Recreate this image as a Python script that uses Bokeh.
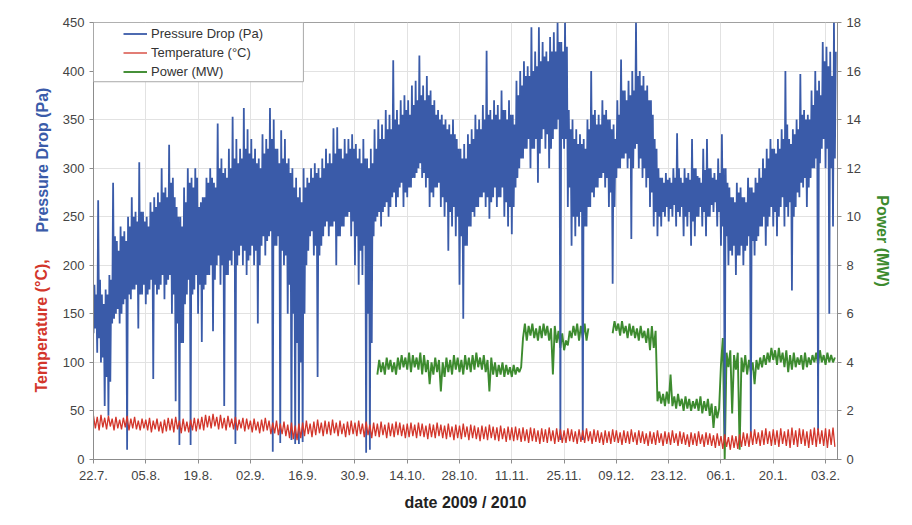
import numpy as np
from bokeh.plotting import figure
from bokeh.models import (Range1d, LinearAxis, FixedTicker, Legend, LegendItem,
                          Title, BoxAnnotation)
from bokeh.embed import file_html
from bokeh.resources import INLINE

# ---------------- data ----------------
# x axis: days since 22.7.2009
TICK_DAYS = [0, 14, 28, 42, 56, 70, 84, 98, 112, 126, 140, 154, 168, 182, 196]
TICK_LABELS = ["22.7.", "05.8.", "19.8.", "02.9.", "16.9.", "30.9.", "14.10.", "28.10.",
               "11.11.", "25.11.", "09.12.", "23.12.", "06.1.", "20.1.", "03.2."]

# Pressure drop (Pa): per day two cycles (low, high, low2, high2), days 0..198
P_LO = [130, 110, 100, 55, 45, 140, 150, 140, 160, 10,
        165, 175, 135, 170, 160, 175, 83, 170, 180, 165,
        185, 150, 60, 15, 120, 170, 15, 175, 150, 121,
        180, 190, 132, 200, 180, 55, 190, 200, 16, 210,
        200, 190, 210, 200, 140, 220, 210, 230, 8, 220,
        17, 200, 150, 20, 16, 16, 18, 200, 230, 210,
        85, 220, 240, 230, 240, 200, 230, 240, 250, 230,
        200, 180, 190, 7, 10, 230, 250, 240, 260, 250,
        270, 260, 280, 260, 270, 280, 290, 300, 290, 280,
        260, 270, 280, 260, 250, 215, 240, 230, 180, 145,
        220, 240, 250, 260, 270, 260, 248, 270, 260, 270,
        250, 240, 232, 280, 300, 310, 320, 300, 320, 285,
        330, 320, 300, 330, 340, 20, 320, 260, 220, 230,
        240, 20, 240, 260, 270, 280, 290, 280, 260, 181,
        290, 300, 310, 300, 227, 320, 300, 290, 280, 260,
        240, 230, 240, 250, 245, 250, 240, 250, 230, 240,
        220, 230, 250, 240, 230, 250, 255, 240, 220, 20,
        200, 210, 190, 210, 200, 220, 25, 210, 230, 240,
        220, 250, 240, 230, 260, 240, 250, 174, 260, 270,
        280, 260, 290, 300, 30, 320, 300, 150, 240]
P_HI = [180, 267, 170, 175, 190, 285, 225, 240, 235, 250,
        270, 255, 306, 255, 250, 265, 270, 275, 300, 280,
        324, 290, 260, 250, 280, 300, 290, 300, 260, 270,
        290, 300, 285, 346, 310, 300, 320, 353, 330, 320,
        362, 340, 330, 320, 310, 335, 330, 362, 350, 320,
        339, 330, 310, 300, 290, 280, 300, 290, 300, 305,
        300, 310, 320, 315, 341, 342, 320, 330, 330, 335,
        325, 320, 330, 310, 320, 340, 350, 345, 360, 355,
        411, 360, 370, 375, 370, 385, 390, 416, 385, 395,
        380, 370, 360, 355, 350, 345, 350, 330, 320, 325,
        335, 340, 355, 350, 365, 421, 360, 370, 365, 380,
        360, 370, 355, 390, 400, 410, 405, 445, 420, 445,
        430, 420, 435, 440, 450, 430, 450, 360, 350, 340,
        335, 330, 350, 400, 360, 355, 370, 360, 350, 345,
        370, 412, 380, 390, 400, 450, 400, 395, 385, 370,
        330, 300, 290, 295, 290, 300, 336, 290, 300, 295,
        330, 300, 290, 320, 330, 300, 295, 310, 335, 300,
        280, 270, 285, 280, 270, 290, 280, 290, 300, 310,
        320, 330, 320, 330, 340, 400, 330, 340, 350, 397,
        360, 355, 380, 400, 390, 430, 425, 420, 450]
P_LO2 = [135, 125, 105, 85, 80, 145, 155, 150, 165, 170,
         175, 180, 170, 180, 170, 185, 180, 175, 190, 180,
         190, 170, 140, 120, 160, 185, 170, 190, 180, 175,
         190, 200, 185, 210, 200, 190, 205, 215, 200, 220,
         215, 205, 220, 215, 200, 230, 225, 235, 220, 230,
         215, 210, 180, 150, 120, 100, 150, 215, 235, 220,
         210, 230, 245, 240, 245, 230, 240, 250, 255, 245,
         230, 215, 220, 150, 120, 245, 255, 255, 265, 260,
         275, 270, 285, 275, 280, 290, 295, 305, 295, 290,
         275, 280, 285, 270, 265, 255, 260, 250, 230, 220,
         240, 255, 260, 270, 275, 270, 265, 280, 270, 280,
         265, 260, 260, 290, 310, 320, 330, 320, 330, 315,
         340, 335, 320, 340, 350, 330, 330, 280, 250, 250,
         255, 240, 260, 275, 280, 290, 295, 290, 275, 260,
         300, 310, 315, 310, 300, 325, 310, 300, 290, 275,
         255, 250, 255, 260, 258, 262, 255, 260, 250, 255,
         245, 250, 260, 255, 250, 262, 265, 255, 240, 230,
         215, 220, 210, 220, 215, 230, 225, 225, 240, 250,
         240, 260, 255, 250, 270, 260, 265, 250, 275, 285,
         290, 280, 300, 310, 305, 330, 320, 300, 310]
P_HI2 = [170, 185, 160, 170, 185, 230, 215, 230, 225, 240,
         250, 245, 255, 245, 240, 255, 260, 265, 275, 270,
         285, 270, 250, 240, 265, 285, 280, 290, 265, 270,
         285, 290, 280, 300, 295, 290, 300, 310, 305, 310,
         320, 315, 310, 305, 300, 315, 320, 330, 320, 305,
         310, 305, 295, 280, 270, 265, 280, 285, 290, 295,
         290, 300, 305, 305, 315, 320, 310, 315, 320, 320,
         310, 305, 310, 300, 305, 320, 330, 330, 340, 340,
         350, 345, 355, 360, 355, 365, 370, 375, 370, 375,
         365, 355, 350, 345, 340, 335, 335, 320, 310, 310,
         325, 330, 340, 340, 350, 355, 350, 355, 350, 360,
         350, 355, 345, 375, 385, 395, 395, 400, 405, 410,
         415, 410, 420, 420, 430, 420, 425, 340, 330, 325,
         325, 320, 340, 355, 345, 345, 355, 350, 340, 330,
         355, 380, 370, 375, 380, 395, 385, 380, 370, 355,
         320, 290, 285, 288, 285, 290, 300, 285, 290, 288,
         300, 292, 285, 298, 300, 290, 288, 295, 300, 285,
         270, 265, 275, 270, 265, 280, 275, 285, 290, 300,
         310, 320, 315, 320, 330, 345, 325, 335, 340, 355,
         350, 350, 365, 380, 375, 410, 405, 395, 420]

# Temperature (°C), daily high / low, days 0..198
T_HI = [45, 44, 46, 43, 45, 42, 44, 41, 43, 45, 42, 44, 40, 42,
        41, 43, 40, 42, 39, 41, 43, 42, 44, 40, 42, 39, 41, 43,
        42, 44, 46, 45, 47, 44, 46, 43, 45, 42, 44, 41, 43, 42,
        40, 42, 39, 41, 43, 40, 38, 40, 37, 39, 36, 38, 35, 37,
        38, 40, 37, 39, 41, 38, 40, 39, 41, 38, 40, 37, 39, 40,
        38, 40, 37, 39, 36, 38, 37, 39, 36, 38, 37, 39, 38, 36,
        37, 38, 36, 38, 37, 35, 37, 36, 38, 36, 35, 37, 34, 36,
        35, 37, 34, 36, 35, 33, 35, 34, 36, 34, 33, 35, 32, 34,
        33, 34, 32, 33, 31, 33, 32, 30, 32, 31, 33, 30, 32, 31,
        30, 32, 31, 29, 31, 30, 32, 29, 31, 30, 28, 30, 29, 31,
        30, 28, 30, 29, 31, 28, 30, 29, 27, 29, 28, 30, 27, 29,
        28, 30, 27, 29, 28, 26, 28, 27, 29, 26, 28, 27, 25, 27,
        24, 26, 23, 25, 24, 26, 28, 27, 29, 31, 28, 30, 32, 29,
        31, 30, 32, 29, 31, 33, 30, 32, 31, 29, 31, 33, 32, 30, 32, 31, 33]
T_LO = [32, 30, 33, 31, 34, 30, 32, 31, 33, 30, 32, 31, 30, 32,
        30, 28, 31, 29, 27, 29, 30, 28, 31, 27, 29, 28, 30, 29,
        31, 30, 33, 32, 34, 31, 32, 30, 33, 31, 30, 32, 29, 31,
        28, 30, 27, 29, 30, 26, 27, 25, 26, 24, 22, 21, 20, 22,
        24, 26, 23, 25, 27, 24, 26, 25, 27, 24, 26, 23, 25, 26,
        24, 26, 23, 25, 22, 24, 23, 25, 22, 24, 23, 25, 24, 22,
        23, 24, 22, 24, 23, 21, 23, 22, 24, 22, 21, 23, 20, 22,
        21, 23, 20, 22, 21, 19, 21, 20, 22, 20, 19, 21, 18, 20,
        19, 20, 18, 19, 17, 19, 18, 16, 18, 17, 19, 16, 18, 17,
        17, 19, 18, 16, 18, 17, 19, 16, 18, 17, 15, 17, 16, 18,
        17, 15, 17, 16, 18, 15, 17, 16, 14, 16, 15, 17, 14, 16,
        15, 17, 14, 16, 15, 13, 15, 14, 16, 13, 15, 14, 12, 14,
        11, 13, 10, 12, 11, 13, 14, 13, 15, 16, 14, 15, 16, 14,
        15, 13, 16, 14, 12, 15, 13, 16, 14, 12, 15, 13, 16, 14, 12, 15, 13]

# Power (MW), daily low / high, days 76..198 (None = no data)
PW_FIRST_DAY = 76
PW_LO = [3.5, 3.6, 3.5, 3.7, 3.6, 3.5, 3.7, 3.8, 3.7, 3.6, 3.8, 3.7, 3.5, 3.6,
         3.1, 3.5, 3.6, 2.8, 3.4, 3.6, 3.5, 3.7, 3.6, 3.5, 3.7, 3.6, 3.7, 3.8,
         3.7, 3.6, 2.8, 3.5, 3.4, 3.5, 3.4, 3.5, 3.4, 3.5,
         3.6, 5.0, 4.9, 5.1, 5.0, 4.9, 5.0, 5.1, 4.9, 3.5, 4.8,
         4.6, 4.5, 4.7, 5.0, 5.1, 4.9, 5.0, 4.9,
         None, None, None, None, None, None,
         5.2, 5.3, 5.1, 5.2, 5.0, 5.1, 5.0, 4.9, 5.0, 4.8, 4.5, 4.6,
         2.4, 2.3, 2.2, 2.3, 2.2, 2.1, 2.2, 2.0, 2.1, 2.0, 2.1, 2.0, 1.9, 2.0, 1.8, 1.3, 1.7,
         3.9, 0.0, 3.8, 1.9, 3.7, 0.4, 3.6, 3.5, 3.6, 3.1, 3.7, 3.8, 3.9,
         4.0, 4.1, 3.9, 4.0, 3.8, 3.6, 3.7, 3.8, 3.9, 3.7, 3.8, 3.9, 4.0, 3.9, 4.0, 3.9, 4.0, 4.0]
PW_HI = [4.1, 4.0, 4.2, 4.1, 4.0, 4.2, 4.3, 4.2, 4.4, 4.3, 4.2, 4.4, 4.3, 4.1,
         4.0, 4.2, 4.1, 4.0, 4.2, 4.1, 4.3, 4.2, 4.1, 4.3, 4.2, 4.3, 4.4, 4.2,
         4.3, 4.1, 4.2, 4.0, 3.9, 4.0, 3.9, 3.8, 3.9, 3.8,
         3.8, 5.6, 5.5, 5.6, 5.4, 5.5, 5.6, 5.5, 5.4, 5.5, 5.3,
         5.2, 4.9, 5.3, 5.5, 5.6, 5.5, 5.6, 5.4,
         None, None, None, None, None, None,
         5.7, 5.6, 5.7, 5.5, 5.6, 5.5, 5.4, 5.5, 5.3, 5.4, 5.5, 5.3,
         2.8, 2.7, 2.8, 3.5, 2.6, 2.7, 2.5, 2.6, 2.5, 2.4, 2.5, 2.6, 2.4, 2.5, 2.3, 2.2, 2.1,
         5.0, 4.4, 4.5, 4.3, 4.4, 4.2, 4.3, 4.1, 4.0, 4.1, 4.2, 4.3, 4.4,
         4.6, 4.5, 4.6, 4.4, 4.5, 4.3, 4.4, 4.2, 4.3, 4.4, 4.2, 4.3, 4.4, 4.5, 4.3, 4.4, 4.3, 4.2]


def interleave(series, first_day):
    """Put the readings of each day one after another, evenly inside the day."""
    n = len(series)
    xs, ys = [], []
    for i, vals in enumerate(zip(*series)):
        for k, v in enumerate(vals):
            xs.append(first_day + i + k / n)
            ys.append(np.nan if v is None else v)
    return xs, ys


px, py = interleave([P_LO, P_HI, P_LO2, P_HI2], 0)
tx, ty = interleave([T_HI, T_LO], 0)
wx, wy = interleave([PW_LO, PW_HI], PW_FIRST_DAY)

BLUE = "#3A5BA9"
RED = "#D3362B"
GREEN = "#3D8B2F"
FONT = "Liberation Sans"

p = figure(frame_width=744, frame_height=437,
           x_range=Range1d(0, 199.2), y_range=Range1d(0, 450),
           output_backend="svg", toolbar_location=None,
           min_border_left=93, min_border_right=72, min_border_top=22, min_border_bottom=63,
           background_fill_color="white", border_fill_color="white")
p.extra_y_ranges = {"power": Range1d(0, 18)}

r_pow = p.line(wx, wy, y_range_name="power", line_color=GREEN, line_width=1.9)
r_p = p.line(px, py, line_color=BLUE, line_width=1.8)
r_t = p.line(tx, ty, line_color=RED, line_width=1.3)

# axes
p.xaxis.ticker = FixedTicker(ticks=TICK_DAYS)
p.xaxis.major_label_overrides = {d: s for d, s in zip(TICK_DAYS, TICK_LABELS)}
p.xaxis.axis_label = "date 2009 / 2010"
p.yaxis.ticker = FixedTicker(ticks=list(range(0, 451, 50)))

right = LinearAxis(y_range_name="power", ticker=FixedTicker(ticks=list(range(0, 19, 2))),
                   axis_label="Power (MW)")
p.add_layout(right, "right")

for ax in [p.xaxis[0], p.yaxis[0], right]:
    ax.axis_line_color = "#8c8c8c"
    ax.major_tick_line_color = "#8c8c8c"
    ax.major_tick_out = 4
    ax.major_tick_in = 0
    ax.minor_tick_line_color = None
    ax.major_label_text_font = FONT
    ax.major_label_text_font_size = "13px"
    ax.major_label_text_color = "#444444"
    ax.major_label_standoff = 5
    ax.axis_label_text_font = FONT
    ax.axis_label_text_font_style = "bold"
    ax.axis_label_text_font_size = "16px"

p.xaxis.major_label_standoff = 7
p.xaxis.axis_label_text_color = "#222222"
p.xaxis.axis_label_standoff = 11
right.axis_label_text_color = GREEN
right.axis_label_standoff = 10

p.xgrid.ticker = FixedTicker(ticks=TICK_DAYS)
p.xgrid.grid_line_color = "#e2e2e2"
p.ygrid.grid_line_color = "#e2e2e2"
p.outline_line_color = "#a0a0a0"

# two-coloured left axis title, as two side titles sharing one column
p.add_layout(Title(text="Temperature (°C),", align="left", offset=67, standoff=20,
                   text_color=RED, text_font=FONT, text_font_style="bold",
                   text_font_size="16px"), "left")
p.add_layout(Title(text="Pressure Drop (Pa)", align="left", offset=227, standoff=-60.8,
                   text_color=BLUE, text_font=FONT, text_font_style="bold",
                   text_font_size="16px"), "left")

# legend frame + legend
p.add_layout(BoxAnnotation(left=0, right=56.2, top=450, bottom=389,
                           fill_color="white", fill_alpha=1.0,
                           line_color="#a8a8a8", line_width=1, line_alpha=1.0))
legend = Legend(items=[LegendItem(label="Pressure Drop (Pa)", renderers=[r_p]),
                       LegendItem(label="Temperature (°C)", renderers=[r_t]),
                       LegendItem(label="Power (MW)", renderers=[r_pow])],
                location=(28, 376), padding=2, spacing=0, margin=0,
                glyph_width=24, glyph_height=19, label_height=19, label_standoff=4,
                label_text_font=FONT, label_text_font_size="13px", label_text_color="#333333",
                border_line_alpha=0, background_fill_alpha=0)
p.add_layout(legend)

open("out.html", "w").write(file_html(p, INLINE))
